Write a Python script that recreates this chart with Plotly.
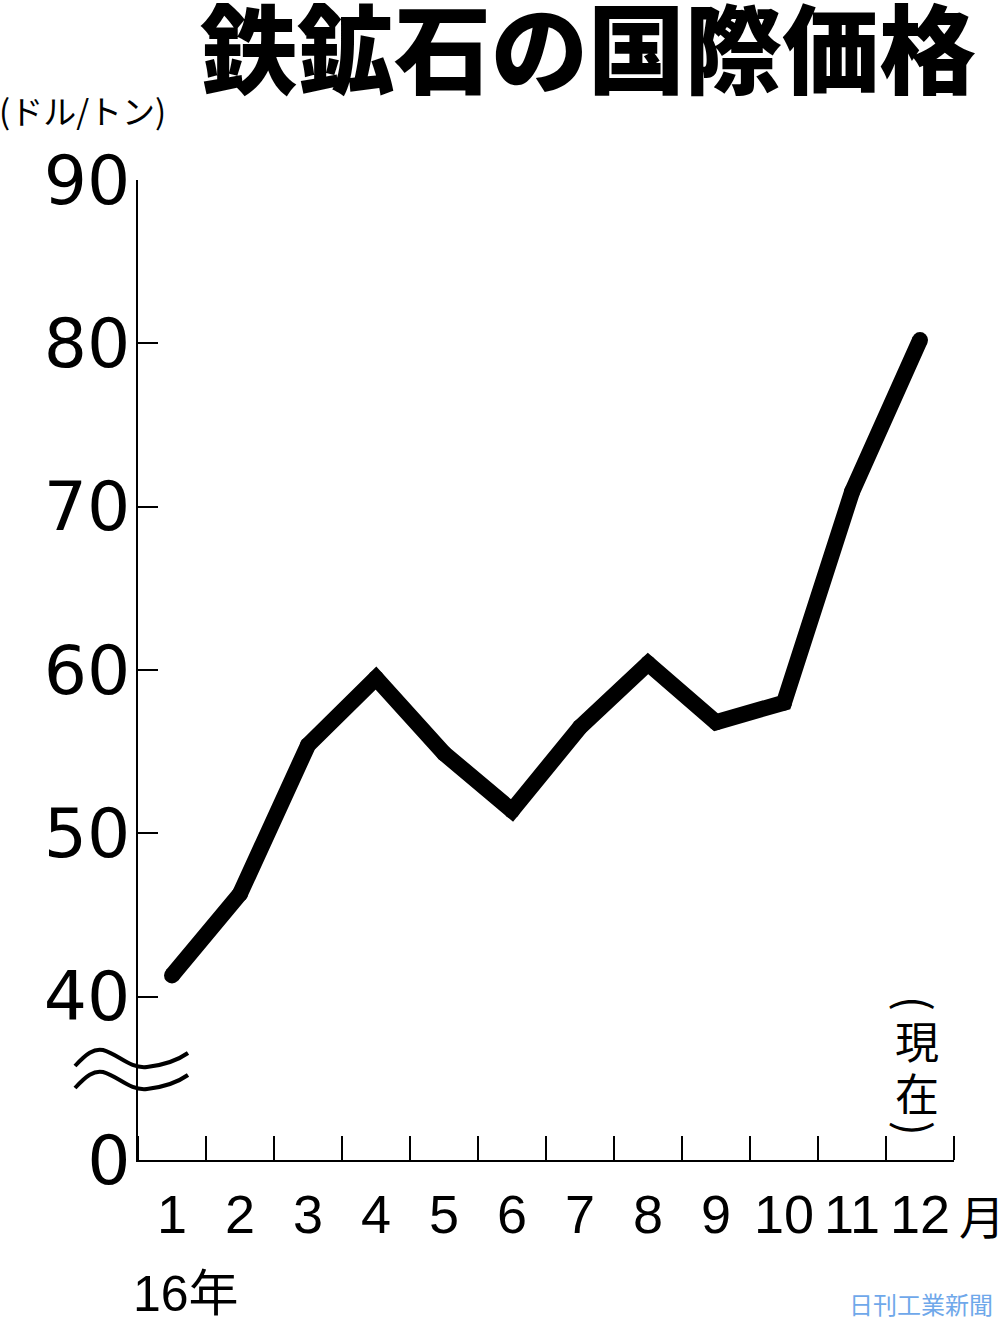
import plotly.graph_objects as go

months = list(range(1, 13))
month_labels = ["1", "2", "3", "4", "5", "6", "7", "8", "9", "10", "11", "12"]
prices = [41.3, 46.3, 55.4, 59.5, 54.9, 51.4, 56.5, 60.4, 56.8, 58.0, 70.9, 80.2]
y_tickvals = [30, 40, 50, 60, 70, 80, 90]
y_ticktext = ["0", "40", "50", "60", "70", "80", "90"]

W, H = 1000, 1319
L, R, T, B = 138, 46, 180, 159
PW, PH = W - L - R, H - T - B


def px(x):
    return (x - L) / PW


def py(y):
    return (H - B - y) / PH


fig = go.Figure()
fig.add_trace(go.Scatter(
    x=months, y=prices, mode="lines+markers",
    line=dict(color="black", width=16),
    marker=dict(color="black", size=16),
    hoverinfo="skip", showlegend=False,
))

num_font = "Liberation Sans Narrow, Liberation Sans, Arial, sans-serif"
cjk = "Noto Sans CJK JP"

fig.update_layout(
    width=W, height=H,
    margin=dict(l=L, r=R, t=T, b=B, pad=0),
    paper_bgcolor="white", plot_bgcolor="white",
    xaxis=dict(
        range=[0.5, 12.5], tickvals=months, ticktext=month_labels,
        ticks="", showgrid=False, zeroline=False, tickangle=0,
        showline=True, linecolor="black", linewidth=2,
        tickfont=dict(family=num_font, size=54, color="black"),
        ticklabelstandoff=6,
        minor=dict(tick0=0.5, dtick=1, ticks="inside", ticklen=24,
                   tickwidth=2, tickcolor="black", showgrid=False),
    ),
    yaxis=dict(
        range=[30, 90], tickvals=y_tickvals, ticktext=y_ticktext,
        ticks="inside", ticklen=20, tickwidth=2, tickcolor="black",
        showgrid=False, zeroline=False,
        showline=True, linecolor="black", linewidth=2,
        tickfont=dict(family="DejaVu Sans, sans-serif", size=68, color="black"),
        ticklabelstandoff=-8,
    ),
)

# axis break symbol
def wave(y0):
    return (f"M {px(75)},{py(y0 + 14)} C {px(86)},{py(y0 + 2)} {px(94)},{py(y0 - 4)} {px(103)},{py(y0 - 2)} "
            f"C {px(118)},{py(y0 + 2)} {px(130)},{py(y0 + 17)} {px(147)},{py(y0 + 15)} "
            f"C {px(165)},{py(y0 + 13)} {px(178)},{py(y0 + 8)} {px(188)},{py(y0 + 1)}")

for y0 in (1052, 1074):
    fig.add_shape(type="path", xref="paper", yref="paper", path=wave(y0),
                  line=dict(color="black", width=4))

anns = [
    dict(text="鉄鉱石の国際価格", x=px(588), y=py(43),
         font=dict(family=cjk, size=97, color="black", weight=900)),
    dict(text="(ドル/トン)", x=px(82), y=py(110),
         font=dict(family=cjk, size=33, color="black")),
    dict(text="(", x=px(917), y=py(1003), textangle=90,
         font=dict(family=cjk, size=44, color="black")),
    dict(text="現", x=px(917), y=py(1040), font=dict(family=cjk, size=44, color="black")),
    dict(text="在", x=px(917), y=py(1092), font=dict(family=cjk, size=44, color="black")),
    dict(text=")", x=px(917), y=py(1128), textangle=90,
         font=dict(family=cjk, size=44, color="black")),
    dict(text="月", x=px(982), y=py(1214), font=dict(family=cjk, size=46, color="black")),
    dict(text="16年", x=px(186), y=py(1294),
         font=dict(family=num_font + ", " + cjk, size=50, color="black")),
    dict(text="日刊工業新聞", x=px(921), y=py(1303),
         font=dict(family=cjk, size=24, color="#6fa8ea")),
]
for a in anns:
    fig.add_annotation(xref="paper", yref="paper", showarrow=False,
                       xanchor="center", yanchor="middle", **a)

fig.write_html("out.html", config={"displayModeBar": False},
               post_script="document.body.style.margin='0';")
